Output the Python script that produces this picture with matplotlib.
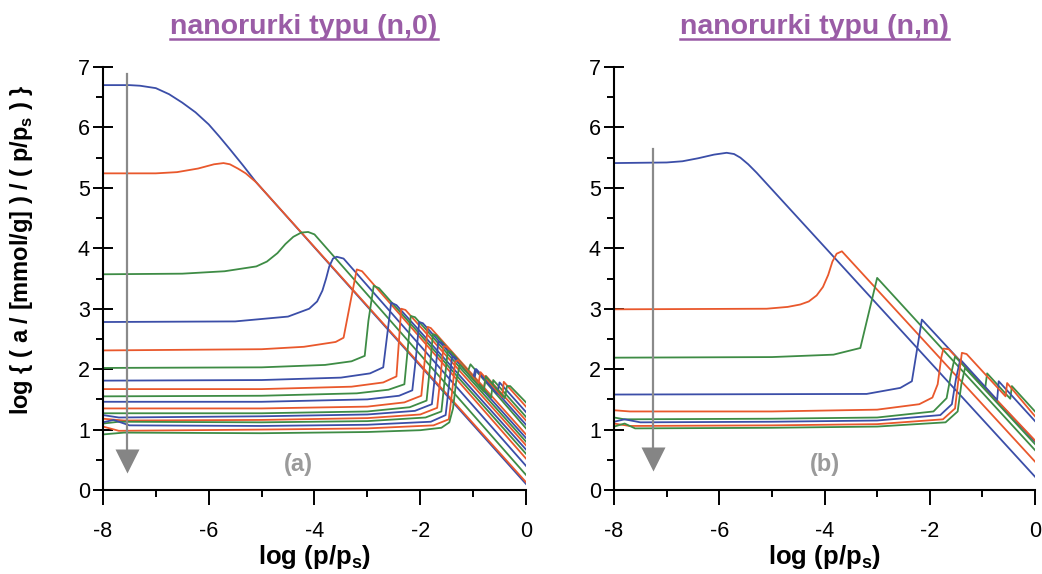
import matplotlib
matplotlib.use("Agg")
import matplotlib.pyplot as plt
from matplotlib.lines import Line2D

plt.rcParams['font.family'] = ['Liberation Sans', 'DejaVu Sans']
plt.rcParams['axes.unicode_minus'] = False

# kolory serii (cykl: niebieski, czerwony, zielony)
BLUE = '#3b4ea8'
RED = '#e9582c'
GREEN = '#3e8c45'
cycle = [BLUE, RED, GREEN]

# --- panel (a): nanorurki typu (n,0) --- punkty
a_x = [
    [-8, -7.5, -7.3, -7.0, -6.75, -6.5, -6.25, -6.0, -5.8, -5.6, -5.35, -5.1, 0],
    [-8, -7.0, -6.6, -6.2, -5.9, -5.72, -5.6, -5.45, -5.3, -5.1, 0],
    [-8, -6.5, -5.7, -5.1, -4.9, -4.7, -4.55, -4.4, -4.25, -4.12, -4.0, 0],
    [-8, -5.5, -4.5, -4.1, -3.95, -3.85, -3.78, -3.72, -3.65, -3.58, -3.45, 0],
    [-8, -5, -4.2, -3.6, -3.45, -3.3, -3.2, -3.1, 0],
    [-8, -5, -3.8, -3.3, -3.05, -2.98, -2.88, -2.78, 0],
    [-8, -5, -3.5, -2.95, -2.7, -2.62, -2.55, -2.45, 0],
    [-8, -5, -3.3, -2.7, -2.45, -2.40, -2.36, -2.28, 0],
    [-8, -5, -3.2, -2.6, -2.3, -2.24, -2.18, -2.1, 0],
    [-8, -5, -3, -2.4, -2.15, -2.08, -2.02, -1.95, 0],
    [-8, -5, -3, -2.3, -1.98, -1.92, -1.86, -1.8, 0],
    [-8, -5, -3, -2.2, -1.88, -1.82, -1.76, -1.7, -1.1, -1.05, 0],
    [-8, -7.7, -5, -3, -2.1, -1.78, -1.72, -1.66, -1.6, -0.98, -0.94, 0],
    [-8, -7.6, -5, -3, -2.0, -1.68, -1.62, -1.56, -1.5, -0.8, -0.76, 0],
    [-8, -7.7, -5, -3, -1.9, -1.6, -1.54, -1.48, -1.42, -0.66, -0.62, 0],
    [-8, -7.8, -7.5, -5, -3, -1.8, -1.52, -1.46, -1.4, -1.35, -1.0, -0.96, -0.55, -0.5, 0],
    [-8, -7.7, -5, -3, -1.75, -1.46, -1.4, -1.34, -1.29, -0.9, -0.86, -0.45, -0.42, 0],
    [-8, -7.6, -5, -3, -2, -1.6, -1.45, -1.38, -1.32, -1.25, -0.8, -0.76, -0.4, -0.36, -0.3, 0],
]
a_y = [
    [6.70, 6.70, 6.69, 6.65, 6.55, 6.41, 6.25, 6.05, 5.85, 5.64, 5.37, 5.09, 0.10],
    [5.24, 5.24, 5.26, 5.32, 5.39, 5.41, 5.39, 5.32, 5.24, 5.09, 0.13],
    [3.57, 3.58, 3.62, 3.70, 3.78, 3.92, 4.07, 4.19, 4.26, 4.27, 4.23, 0.25],
    [2.78, 2.79, 2.87, 3.00, 3.12, 3.30, 3.50, 3.70, 3.83, 3.86, 3.83, 0.40],
    [2.31, 2.33, 2.37, 2.45, 2.52, 3.20, 3.65, 3.62, 0.52],
    [2.02, 2.03, 2.07, 2.13, 2.22, 2.80, 3.38, 3.34, 0.60],
    [1.81, 1.82, 1.86, 1.93, 2.03, 2.60, 3.10, 3.06, 0.67],
    [1.67, 1.67, 1.71, 1.78, 1.88, 2.50, 3.00, 2.98, 0.74],
    [1.55, 1.56, 1.60, 1.66, 1.75, 2.30, 2.88, 2.86, 0.80],
    [1.46, 1.46, 1.50, 1.56, 1.65, 2.20, 2.78, 2.76, 0.86],
    [1.35, 1.35, 1.38, 1.45, 1.56, 2.10, 2.70, 2.68, 0.92],
    [1.27, 1.27, 1.30, 1.37, 1.48, 2.00, 2.58, 2.56, 1.96, 2.08, 1.02],
    [1.24, 1.20, 1.22, 1.25, 1.31, 1.42, 1.90, 2.45, 2.44, 1.82, 2.00, 1.08],
    [1.18, 1.15, 1.16, 1.19, 1.25, 1.36, 1.85, 2.38, 2.37, 1.67, 1.89, 1.15],
    [1.10, 1.13, 1.12, 1.14, 1.20, 1.30, 1.80, 2.30, 2.29, 1.53, 1.82, 1.21],
    [1.12, 1.16, 1.07, 1.06, 1.08, 1.13, 1.24, 1.70, 2.20, 2.20, 1.85, 2.00, 1.59, 1.78, 1.29],
    [1.05, 0.98, 1.00, 1.02, 1.07, 1.17, 1.60, 2.12, 2.15, 1.76, 1.95, 1.54, 1.79, 1.38],
    [0.92, 0.95, 0.94, 0.96, 0.99, 1.03, 1.12, 1.35, 1.80, 2.08, 1.63, 1.88, 1.52, 1.72, 1.72, 1.45],
]

# --- panel (b): nanorurki typu (n,n) ---
b_x = [
    [-8, -7, -6.7, -6.4, -6.1, -5.86, -5.72, -5.6, -5.45, -5.29, 0],
    [-8, -5.1, -4.7, -4.46, -4.3, -4.15, -4.03, -3.93, -3.85, -3.77, -3.67, 0],
    [-8, -5, -3.83, -3.32, -3.0, 0],
    [-8, -3.2, -2.56, -2.34, -2.2, -2.15, 0],
    [-8, -7.7, -5, -3, -2.2, -1.95, -1.85, -1.78, -1.74, -1.64, 0],
    [-8, -7.8, -5, -3, -1.93, -1.68, -1.6, -1.52, -0.95, -0.91, -0.47, -0.44, 0],
    [-8, -7.8, -7.5, -5, -3, -1.8, -1.58, -1.5, -1.42, -0.72, -0.69, 0],
    [-8, -7.7, -5, -3, -1.75, -1.52, -1.46, -1.39, -1.3, -0.56, -0.53, 0],
    [-8, -7.8, -7.6, -5, -3, -1.7, -1.47, -1.4, -1.33, 0],
]
b_y = [
    [5.41, 5.42, 5.44, 5.49, 5.55, 5.58, 5.56, 5.50, 5.39, 5.25, 0.22],
    [2.99, 3.00, 3.03, 3.07, 3.12, 3.22, 3.36, 3.56, 3.78, 3.91, 3.95, 0.47],
    [2.19, 2.20, 2.24, 2.35, 3.51, 0.66],
    [1.58, 1.59, 1.69, 1.80, 2.55, 2.82, 0.80],
    [1.32, 1.30, 1.30, 1.33, 1.42, 1.53, 1.75, 2.20, 2.34, 2.33, 0.82],
    [1.20, 1.17, 1.18, 1.20, 1.30, 1.52, 1.90, 2.21, 1.67, 1.93, 1.51, 1.72, 1.30],
    [1.13, 1.17, 1.12, 1.13, 1.15, 1.24, 1.42, 1.85, 2.16, 1.49, 1.80, 1.14],
    [1.10, 1.06, 1.07, 1.09, 1.17, 1.35, 1.80, 2.27, 2.25, 1.55, 1.77, 1.22],
    [1.05, 1.10, 1.02, 1.03, 1.05, 1.12, 1.30, 1.75, 2.02, 0.76],
]

panels = [
    ('nanorurki typu (n,0)', '(a)', a_x, a_y, -7.55, 6.88, 0.48, -4.3),
    ('nanorurki typu (n,n)', '(b)', b_x, b_y, -7.26, 5.64, 0.52, -4.0),
]

fig = plt.figure(figsize=(10.42, 5.74), dpi=100)
ax_a = fig.add_axes([0.0988, 0.1463, 0.4060, 0.7370])
ax_b = fig.add_axes([0.5893, 0.1463, 0.4040, 0.7370])

titles = []
for ax, (title, tag, xs, ys, arr_x, arr_top, arr_y, tag_x) in zip([ax_a, ax_b], panels):
    for i, (x, y) in enumerate(zip(xs, ys)):
        ax.plot(x, y, color=cycle[i % 3], lw=1.3, solid_joinstyle='round')

    # strzalka (szara)
    ax.plot([arr_x, arr_x], [arr_top, arr_y + 0.1], color='#8a8a8a', lw=1.6)
    ax.plot([arr_x], [arr_y], marker='v', markersize=17, color='#858585', mec='none')
    ax.text(tag_x, 0.42, tag, ha='center', va='center', fontsize=17,
            fontweight='bold', color='#9a9a9a')

    ax.set_xlim(-8, 0)
    ax.set_ylim(0, 7)
    ax.set_xticks([-8, -6, -4, -2, 0])
    ax.set_xticks([-7, -5, -3, -1], minor=True)
    ax.set_yticks(range(0, 8))
    ax.set_yticks([0.5 + k for k in range(7)], minor=True)
    ax.spines['top'].set_visible(False)
    ax.spines['right'].set_visible(False)
    for s in ['left', 'bottom']:
        ax.spines[s].set_linewidth(1.5)
    ax.tick_params(axis='x', which='major', direction='out', length=11, width=1.4,
                   labelsize=15.5, pad=11)
    ax.tick_params(axis='x', which='minor', direction='out', length=5, width=1.4)
    ax.tick_params(axis='y', which='major', direction='inout', length=15, width=1.4,
                   labelsize=15.5, pad=2)
    ax.tick_params(axis='y', which='minor', direction='out', length=5, width=1.4)
    ax.set_xlabel('log (p/p$_\\mathregular{s}$)', fontsize=18.5, fontweight='bold', labelpad=1)

    cx = (ax.get_position().x0 + ax.get_position().x1) / 2
    t = fig.text(cx - 0.01, 0.953, title, ha='center', va='center', fontsize=20.5,
                 fontweight='bold', color='#9a5ca6')
    titles.append(t)

fig.text(0.021, 0.565, 'log { ( a / [mmol/g] ) / ( p/p$_\\mathregular{s}$ ) }',
         rotation=90, ha='center', va='center', fontsize=17, fontweight='bold')

# podkreslenie tytulow
fig.canvas.draw()
renderer = fig.canvas.get_renderer()
inv = fig.transFigure.inverted()
for t in titles:
    bb = t.get_window_extent(renderer)
    (x0, y0), (x1, _) = inv.transform([[bb.x0, bb.y0 + 1], [bb.x1, bb.y0 + 1]])
    fig.add_artist(Line2D([x0, x1], [y0, y0], transform=fig.transFigure,
                          color='#9a5ca6', lw=1.8))

fig.savefig('out.png', dpi=100)
